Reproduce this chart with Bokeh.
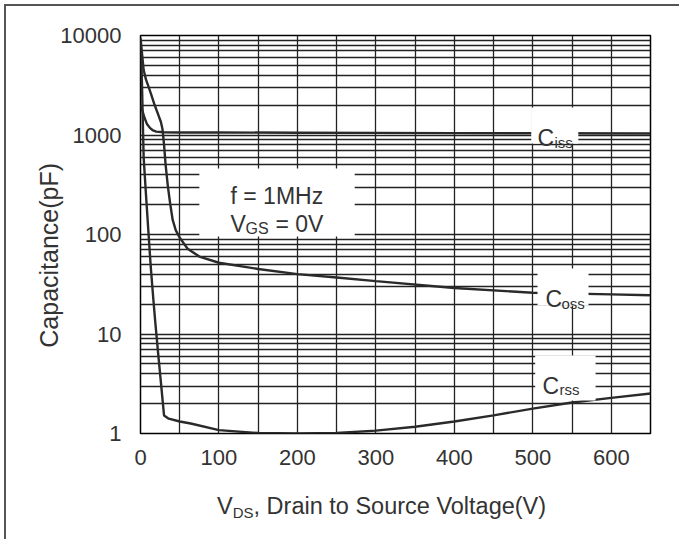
from bokeh.plotting import figure
from bokeh.models import FixedTicker, Label, Range1d, Div
from bokeh.layouts import column
from bokeh.embed import file_html
from bokeh.resources import INLINE

# ---- data ----
ciss_v = [0, 2, 5, 8, 12, 16, 20, 30, 50, 100, 200, 300, 400, 500, 650]
ciss_c = [2000, 1800, 1500, 1300, 1180, 1110, 1080, 1065, 1060, 1060, 1055, 1050, 1045, 1040, 1035]

coss_v = [0, 2, 4, 7, 10, 14, 18, 22, 26, 28, 30, 32, 35, 38, 41, 45, 50, 60, 75, 100, 150, 200, 250, 300, 400, 500, 600, 650]
coss_c = [9500, 6500, 4500, 3600, 3100, 2500, 2000, 1650, 1350, 1150, 800, 500, 300, 200, 140, 110, 93, 72, 60, 52, 45, 40, 37, 34, 29, 26, 25, 24.5]

crss_v = [0, 1, 2, 3, 4, 7, 10, 13, 16.5, 19, 23, 27, 30, 36, 50, 64, 100, 150, 200, 250, 300, 350, 400, 450, 500, 550, 600, 650]
crss_c = [9000, 6000, 3000, 1300, 600, 250, 109, 48, 21.7, 12.7, 5.8, 2.7, 1.52, 1.41, 1.32, 1.26, 1.08, 1.01, 1.0, 1.01, 1.07, 1.17, 1.32, 1.52, 1.78, 2.05, 2.28, 2.52]

x_ticks = [0, 100, 200, 300, 400, 500, 600]
x_minor = [50, 150, 250, 350, 450, 550, 650]
y_ticks = [1, 10, 100, 1000, 10000]
y_minor = [m * d for d in [1, 10, 100, 1000] for m in range(2, 10)]

# white label backgrounds (data coords: V, pF)
box_left = [75, 498, 506, 503]
box_right = [273, 558, 571, 580]
box_top = [460, 1890, 45.5, 6.08]
box_bottom = [95.5, 822, 19.3, 2.15]

FONT = "Liberation Sans"
TXT = "#333333"
GRID = "#222222"

p = figure(width=667, height=479, output_backend="svg", toolbar_location=None,
           y_axis_type="log", x_range=Range1d(0, 650), y_range=Range1d(1, 10000),
           min_border_left=134, min_border_right=23, min_border_top=29, min_border_bottom=52)

p.background_fill_color = "white"
p.border_fill_color = "white"
p.outline_line_color = "black"
p.outline_line_width = 1.5

p.xaxis.ticker = FixedTicker(ticks=x_ticks, minor_ticks=x_minor)
p.yaxis.ticker = FixedTicker(ticks=y_ticks, minor_ticks=y_minor)
p.yaxis.major_label_overrides = {1: "1", 10: "10", 100: "100", 1000: "1000", 10000: "10000"}

for ax in (p.xaxis, p.yaxis):
    ax.axis_line_color = None
    ax.major_tick_line_color = None
    ax.minor_tick_line_color = None
    ax.major_tick_out = 0
    ax.major_tick_in = 0
    ax.minor_tick_out = 0
    ax.minor_tick_in = 0
    ax.major_label_text_font = FONT
    ax.major_label_text_font_size = "22px"
    ax.major_label_text_color = TXT
p.xaxis.major_label_standoff = 16
p.yaxis.major_label_standoff = 19

# trailing no-break spaces shift the centred title towards the bottom, as in the reference
p.yaxis.axis_label = "Capacitance(pF)" + "\u00a0" * 6
p.yaxis.axis_label_text_font = FONT
p.yaxis.axis_label_text_font_size = "25px"
p.yaxis.axis_label_text_font_style = "normal"
p.yaxis.axis_label_text_color = TXT
p.yaxis.axis_label_standoff = -6

for g in (p.xgrid, p.ygrid):
    g.grid_line_color = GRID
    g.grid_line_width = 1.3
    g.minor_grid_line_color = GRID
    g.minor_grid_line_width = 1.3

lw = 2.4
lc = "#2a2a2a"
p.line(ciss_v, ciss_c, line_color=lc, line_width=lw)
p.line(coss_v, coss_c, line_color=lc, line_width=lw)
p.line(crss_v, crss_c, line_color=lc, line_width=lw)

p.quad(left=box_left, right=box_right, top=box_top, bottom=box_bottom,
       fill_color="white", line_color=None)


def lab(x, y, text, size):
    p.add_layout(Label(x=x, y=y, x_units="screen", y_units="screen", text=text,
                       text_font=FONT, text_font_size=size, text_color=TXT,
                       text_baseline="alphabetic", text_align="left"))


# in-plot annotations (offsets in px from the frame's bottom-left corner)
lab(90, 238, "f = 1MHz", "23px")
lab(90, 210, "V", "23px")
lab(105, 205, "GS", "16px")
lab(135, 210, "= 0V", "23px")

lab(397, 296, "C", "23px")
lab(414, 291, "iss", "15px")
lab(405, 135, "C", "23px")
lab(421, 130, "oss", "15px")
lab(402, 48, "C", "23px")
lab(419, 44, "rss", "15px")

xtitle = Div(
    text=('<div style="margin-left:206px;margin-top:3px;font-family:\'Liberation Sans\';'
          'font-size:23.5px;color:#333333;white-space:nowrap;line-height:26px;">'
          'V<span style="font-size:15px;position:relative;top:4px;">DS</span>'
          ', Drain to Source Voltage(V)</div>'),
    width=667, height=50)

layout = column(p, xtitle, spacing=0,
                styles={"margin": "6px", "outline": "2px solid #555555",
                        "background-color": "white"})

open("out.html", "w").write(file_html(layout, INLINE))
